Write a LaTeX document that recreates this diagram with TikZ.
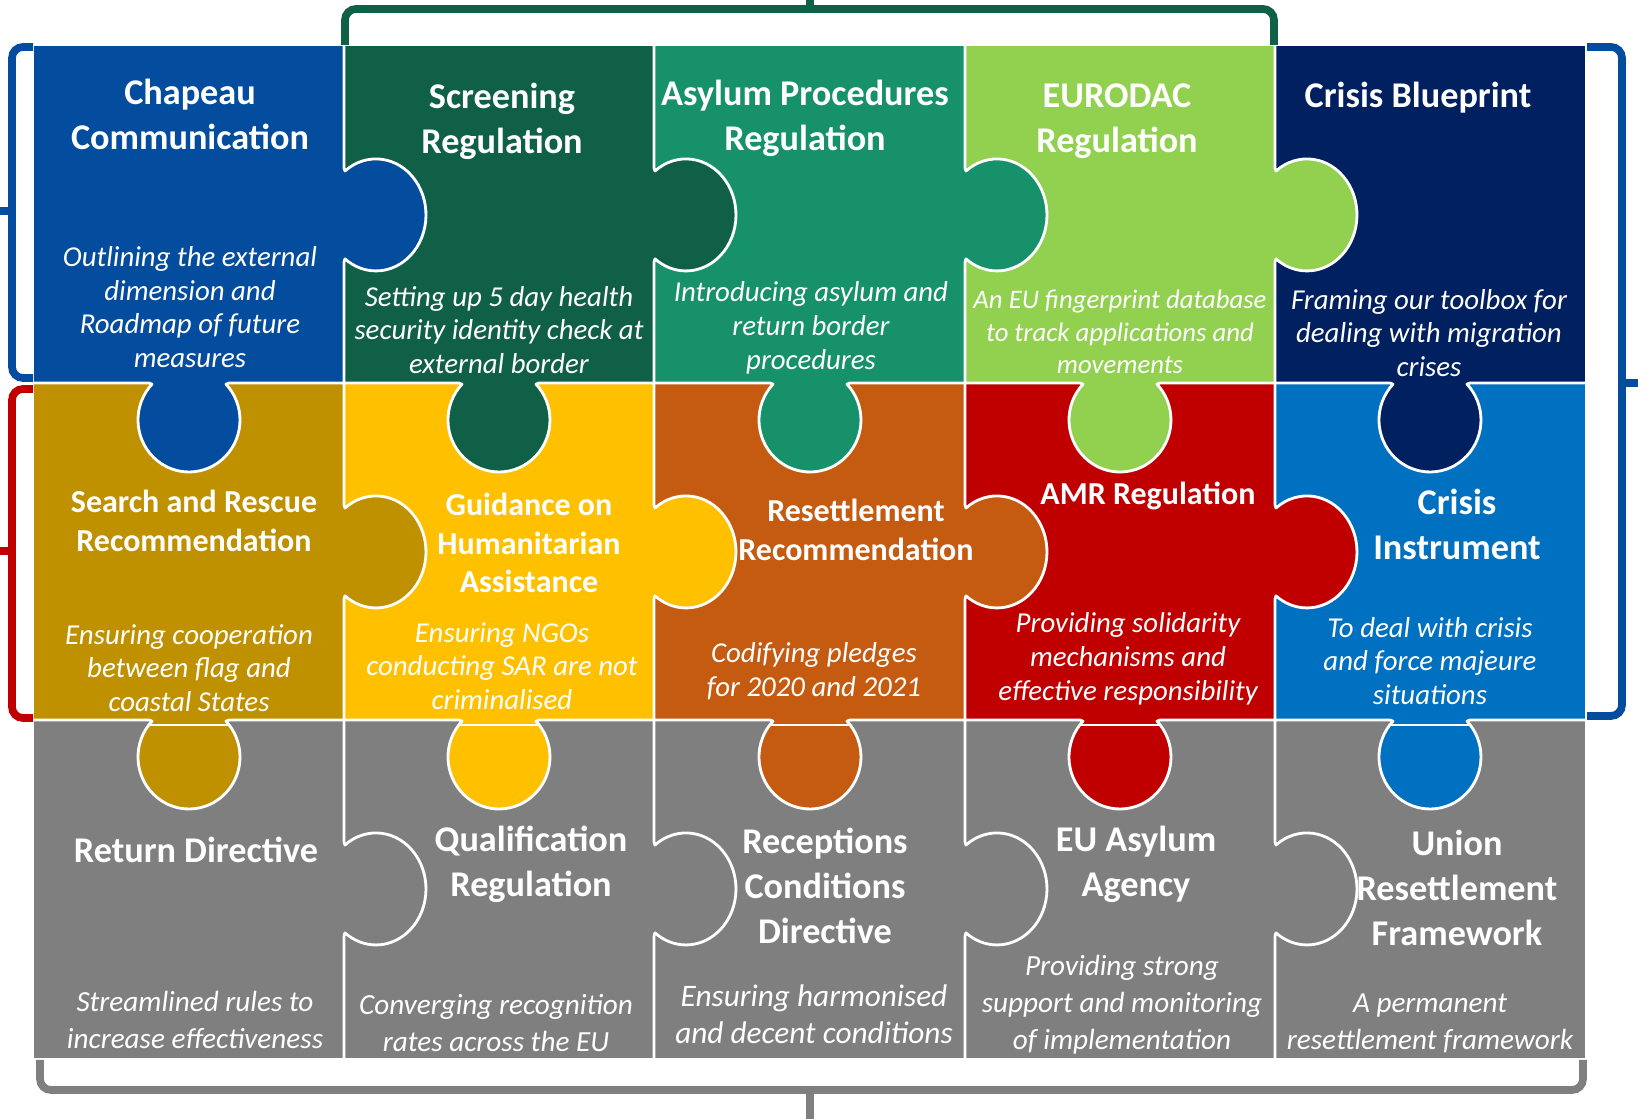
\documentclass[tikz,border=0pt]{standalone}
\usepackage{fontspec}
\setmainfont{Carlito}
\usepackage{tikz}
\definecolor{chapeau}{RGB}{4,76,158}
\definecolor{screen}{RGB}{16,96,72}
\definecolor{asylum}{RGB}{23,145,106}
\definecolor{eurodac}{RGB}{146,208,80}
\definecolor{blueprint}{RGB}{0,32,96}
\definecolor{sar}{RGB}{191,144,0}
\definecolor{guide}{RGB}{255,192,0}
\definecolor{resettle}{RGB}{197,90,17}
\definecolor{amr}{RGB}{192,0,0}
\definecolor{crisis}{RGB}{0,112,192}
\definecolor{tilegrey}{RGB}{127,127,127}
\newcommand{\hknob}[2]{-- (#1,{#2+47}) -- ({#1+1},{#2+44}) arc[start angle=128.3,end angle=-128.3,x radius=50,y radius=56] -- (#1,{#2-47})}
\newcommand{\vknob}[2]{-- ({#1-40},#2) -- ({#1-37},{#2-1.2}) arc[start angle=136.5,end angle=403.5,x radius=51,y radius=52] -- ({#1+40},#2)}

\begin{document}
\begin{tikzpicture}[x=0.01cm,y=0.01cm]
\tikzstyle{every node}+=[inner sep=0pt]
\tikzstyle{seam}=[white,line width=0.8pt,line join=round]
\tikzstyle{brace}=[line width=2.2pt,rounded corners=1.1mm]
\tikzstyle{ttl}=[text=white,align=center,font=\fontsize{10.3}{12.8}\selectfont\bfseries]
\tikzstyle{ttlb}=[text=white,align=center,font=\fontsize{9.1}{11}\selectfont\bfseries]
\tikzstyle{sub}=[text=white,align=center,font=\fontsize{8.2}{9.6}\selectfont\itshape]
\tikzstyle{subc}=[text=white,align=center,font=\fontsize{8.3}{10.5}\selectfont\itshape]
\useasboundingbox (0,0) rectangle (1638,-1119);
\fill [chapeau] (34,-46) rectangle (344,-383);
\fill [screen] (344,-46) rectangle (654,-383);
\fill [asylum] (654,-46) rectangle (965,-383);
\fill [eurodac] (965,-46) rectangle (1275,-383);
\fill [blueprint] (1275,-46) rectangle (1585,-383);
\fill [sar] (34,-383) rectangle (344,-720);
\fill [guide] (344,-383) rectangle (654,-720);
\fill [resettle] (654,-383) rectangle (965,-720);
\fill [amr] (965,-383) rectangle (1275,-720);
\fill [crisis] (1275,-383) rectangle (1585,-720);
\fill [tilegrey] (34,-720) rectangle (1585,-1058);
\fill [chapeau] (340,-168) \hknob{344}{-215} -- (340,-262) -- cycle;
\fill [screen] (650,-168) \hknob{654}{-215} -- (650,-262) -- cycle;
\fill [asylum] (961,-168) \hknob{965}{-215} -- (961,-262) -- cycle;
\fill [eurodac] (1271,-168) \hknob{1275}{-215} -- (1271,-262) -- cycle;
\fill [sar] (340,-505) \hknob{344}{-552} -- (340,-599) -- cycle;
\fill [guide] (650,-505) \hknob{654}{-552} -- (650,-599) -- cycle;
\fill [resettle] (961,-505) \hknob{965}{-552} -- (961,-599) -- cycle;
\fill [amr] (1271,-505) \hknob{1275}{-552} -- (1271,-599) -- cycle;
\fill [chapeau] (149,-379) \vknob{189}{-383} -- (229,-379) -- cycle;
\fill [screen] (459,-379) \vknob{499}{-383} -- (539,-379) -- cycle;
\fill [asylum] (770,-379) \vknob{810}{-383} -- (850,-379) -- cycle;
\fill [eurodac] (1080,-379) \vknob{1120}{-383} -- (1160,-379) -- cycle;
\fill [blueprint] (1390,-379) \vknob{1430}{-383} -- (1470,-379) -- cycle;
\fill [sar] (149,-716) \vknob{189}{-720} -- (229,-716) -- cycle;
\fill [guide] (459,-716) \vknob{499}{-720} -- (539,-716) -- cycle;
\fill [resettle] (770,-716) \vknob{810}{-720} -- (850,-716) -- cycle;
\fill [amr] (1080,-716) \vknob{1120}{-720} -- (1160,-716) -- cycle;
\fill [crisis] (1390,-716) \vknob{1430}{-720} -- (1470,-716) -- cycle;
\draw [seam] (344,-46) \hknob{344}{-215} \hknob{344}{-552} \hknob{344}{-889} -- (344,-1058);
\draw [seam] (654,-46) \hknob{654}{-215} \hknob{654}{-552} \hknob{654}{-889} -- (654,-1058);
\draw [seam] (965,-46) \hknob{965}{-215} \hknob{965}{-552} \hknob{965}{-889} -- (965,-1058);
\draw [seam] (1275,-46) \hknob{1275}{-215} \hknob{1275}{-552} \hknob{1275}{-889} -- (1275,-1058);
\draw [seam] (34,-383) \vknob{189}{-383} \vknob{499}{-383} \vknob{810}{-383} \vknob{1120}{-383} \vknob{1430}{-383} -- (1585,-383);
\draw [seam] (34,-720) \vknob{189}{-720} \vknob{499}{-720} \vknob{810}{-720} \vknob{1120}{-720} \vknob{1430}{-720} -- (1585,-720);
\draw [seam] (149,-725) -- (229,-725);
\draw [seam] (459,-725) -- (539,-725);
\draw [seam] (770,-725) -- (850,-725);
\draw [seam] (1080,-725) -- (1160,-725);
\draw [seam] (1390,-725) -- (1470,-725);
\draw [brace,screen] (345,-45) -- (345,-9) -- (1274,-9) -- (1274,-45);
\draw [brace,screen] (810,-9) -- (810,2);
\draw [brace,chapeau] (33,-47) -- (12,-47) -- (12,-378) -- (33,-378);
\draw [brace,chapeau] (12,-211) -- (-2,-211);
\draw [brace,amr] (33,-389) -- (12,-389) -- (12,-718) -- (33,-718);
\draw [brace,amr] (12,-551) -- (-2,-551);
\draw [brace,chapeau] (1587,-47) -- (1622,-47) -- (1622,-716) -- (1587,-716);
\draw [brace,chapeau] (1622,-383) -- (1640,-383);
\draw [brace,tilegrey] (40,-1060) -- (40,-1090) -- (1583,-1090) -- (1583,-1060);
\draw [brace,tilegrey] (810,-1090) -- (810,-1125);
\draw (190,-114) node (chapeauT) [ttl] {Chapeau\\Communication};
\draw (190,-307) node (chapeauS) [sub] {Outlining the external\\dimension and\\Roadmap of future\\measures};
\draw (502,-121) node (screenT) [ttl] {Screening\\Regulation};
\draw (499,-330) node (screenS) [sub] {Setting up 5 day health\\security identity check at\\external border};
\draw (805,-118) node (asylumT) [ttl] {Asylum Procedures\\Regulation};
\draw (811,-328) node (asylumS) [sub] {Introducing asylum and\\return border\\procedures};
\draw (1117,-121) node (eurodacT) [ttl] {EURODAC\\Regulation};
\draw (1120,-332) node (eurodacS) [sub,font=\fontsize{7.6}{9.2}\selectfont\itshape] {An EU fingerprint database\\to track applications and\\movements};
\draw (1418,-98) node (blueprintT) [ttl] {Crisis Blueprint};
\draw (1429,-333) node (blueprintS) [sub] {Framing our toolbox for\\dealing with migration\\crises};
\draw (194,-521) node (sarT) [ttlb] {Search and Rescue\\Recommendation};
\draw (189,-668) node (sarS) [sub] {Ensuring cooperation\\between flag and\\coastal States};
\draw (529,-543) node (guideT) [ttlb] {Guidance on\\Humanitarian\\Assistance};
\draw (502,-666) node (guideS) [sub] {Ensuring NGOs\\conducting SAR are not\\criminalised};
\draw (856,-530) node (resettleT) [ttlb] {Resettlement\\Recommendation};
\draw (814,-671) node (resettleS) [sub] {Codifying pledges\\for 2020 and 2021};
\draw (1148,-496) node (amrT) [ttlb] {AMR Regulation};
\draw (1128,-659) node (amrS) [sub] {Providing solidarity\\mechanisms and\\effective responsibility};
\draw (1457,-524) node (crisisT) [ttl] {Crisis\\Instrument};
\draw (1430,-661) node (crisisS) [sub] {To deal with crisis\\and force majeure\\situations};
\draw (196,-850) node (returnT) [ttl] {Return Directive};
\draw (195,-1020) node (returnS) [subc] {Streamlined rules to\\increase effectiveness};
\draw (531,-864) node (qualT) [ttl] {Qualification\\Regulation};
\draw (496,-1023) node (qualS) [subc] {Converging recognition\\rates across the EU};
\draw (825,-886) node (recepT) [ttl] {Receptions\\Conditions\\Directive};
\draw (814,-1014) node (recepS) [subc,font=\fontsize{8.9}{10.5}\selectfont\itshape] {Ensuring harmonised\\and decent conditions};
\draw (1136,-864) node (agencyT) [ttl] {EU Asylum\\Agency};
\draw (1122,-1005) node (agencyS) [subc] {Providing strong\\support and monitoring\\of implementation};
\draw (1457,-888) node (unionT) [ttl] {Union\\Resettlement\\Framework};
\draw (1430,-1023) node (unionS) [subc] {A permanent\\resettlement framework};
\end{tikzpicture}
\end{document}
